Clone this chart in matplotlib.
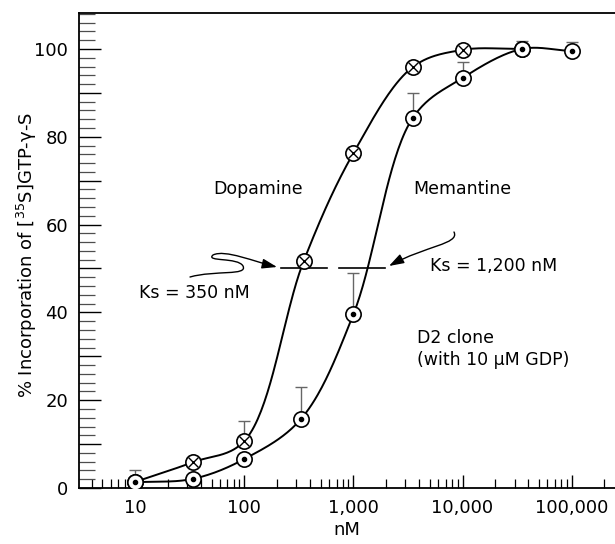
import numpy as np
import matplotlib
matplotlib.use("Agg")
import matplotlib.pyplot as plt
from matplotlib.ticker import MultipleLocator, LogLocator, FuncFormatter, NullFormatter
from matplotlib.patches import FancyArrowPatch
from matplotlib.path import Path

plt.rcParams['font.family'] = ['DejaVu Sans']
plt.rcParams['mathtext.fontset'] = 'dejavusans'

# data (nM, % incorporation)
dopa_x = [10, 34, 100, 350, 1000, 3500, 10000, 35000]
dopa_y = [1.4, 5.9, 10.7, 51.7, 76.3, 95.9, 99.8, 100.0]
dopa_err = [0, 0, 4.6, 0, 0, 0, 0, 0]

mem_x = [10, 34, 100, 330, 1000, 3500, 10000, 35000, 100000]
mem_y = [1.3, 2.1, 6.6, 15.7, 39.6, 84.3, 93.4, 100.0, 99.5]
mem_err = [2.9, 0, 0, 7.3, 9.4, 5.7, 3.6, 1.8, 2.2]

ks_dopa = 350
ks_mem = 1200

x_ticks = [10, 100, 1000, 10000, 100000]


def catmull(xv, yv, npts=40):
    """ centripetal catmull-rom line through the points, done in
        log10(x) and scaled y so both axes weigh about the same
    """
    yscale = 0.04
    P = np.column_stack([np.log10(xv), np.asarray(yv, float) * yscale])
    P = np.vstack([2 * P[0] - P[1], P, 2 * P[-1] - P[-2]])
    out = []
    for i in range(1, len(P) - 2):
        p0, p1, p2, p3 = P[i - 1], P[i], P[i + 1], P[i + 2]
        t0 = 0.0
        t1 = t0 + np.linalg.norm(p1 - p0) ** 0.5
        t2 = t1 + np.linalg.norm(p2 - p1) ** 0.5
        t3 = t2 + np.linalg.norm(p3 - p2) ** 0.5
        t = np.linspace(t1, t2, npts)[:, None]
        a1 = (t1 - t) / (t1 - t0) * p0 + (t - t0) / (t1 - t0) * p1
        a2 = (t2 - t) / (t2 - t1) * p1 + (t - t1) / (t2 - t1) * p2
        a3 = (t3 - t) / (t3 - t2) * p2 + (t - t2) / (t3 - t2) * p3
        b1 = (t2 - t) / (t2 - t0) * a1 + (t - t0) / (t2 - t0) * a2
        b2 = (t3 - t) / (t3 - t1) * a2 + (t - t1) / (t3 - t1) * a3
        c = (t2 - t) / (t2 - t1) * b1 + (t - t1) / (t2 - t1) * b2
        out.append(c)
    c = np.vstack(out)
    return 10 ** c[:, 0], c[:, 1] / yscale


fig = plt.figure(figsize=(6.15, 5.44), dpi=100)
ax = fig.add_axes([79 / 615, 1 - 488 / 544, 1 - 79 / 615, (488 - 13) / 544])

# fitted lines
for xv, yv in [(dopa_x, dopa_y), (mem_x, mem_y)]:
    sx, sy = catmull(xv, yv)
    ax.plot(sx, sy, color='black', lw=1.4, zorder=2)

# upper error bars
for xv, yv, ev in [(dopa_x, dopa_y, dopa_err), (mem_x, mem_y, mem_err)]:
    xe = [a for a, e in zip(xv, ev) if e > 0]
    ye = [b for b, e in zip(yv, ev) if e > 0]
    ee = [e for e in ev if e > 0]
    ax.errorbar(xe, ye, yerr=[np.zeros(len(ee)), ee], fmt='none',
                ecolor='0.4', elinewidth=1.0, capsize=4.5, capthick=1.0,
                zorder=1.5)

# dopamine markers (circle with cross)
ax.plot(dopa_x, dopa_y, 'o', ms=11, mfc='white', mec='black', mew=1.2,
        zorder=3)
ax.plot(dopa_x, dopa_y, 'x', ms=7.5, color='black', mew=1.0, zorder=4)

# memantine markers (circle with dot)
ax.plot(mem_x, mem_y, 'o', ms=11, mfc='white', mec='black', mew=1.2,
        zorder=5)
ax.plot(mem_x, mem_y, 'o', ms=3, color='black', zorder=6)

# Ks bars at 50 %
for ks in [ks_dopa, ks_mem]:
    ax.plot([ks / 10**0.21, ks * 10**0.21], [50, 50], color='black',
            lw=1.2, zorder=2.5)

ax.set_xscale('log')
ax.set_xlim(3.05, 250000)
ax.set_ylim(0, 108.2)

ax.spines['right'].set_visible(False)
for s in ['left', 'bottom', 'top']:
    ax.spines[s].set_linewidth(1.3)

ax.xaxis.set_major_locator(LogLocator(base=10))
ax.xaxis.set_minor_locator(LogLocator(base=10, subs=np.arange(2, 10)))
ax.xaxis.set_major_formatter(FuncFormatter(lambda v, p: f"{v:,.0f}"))
ax.xaxis.set_minor_formatter(NullFormatter())
ax.set_xticks(x_ticks)

ax.yaxis.set_major_locator(MultipleLocator(10))
ax.yaxis.set_minor_locator(MultipleLocator(2))
ax.yaxis.set_major_formatter(
    FuncFormatter(lambda v, p: f"{v:.0f}" if round(v) % 20 == 0 else ""))

ax.tick_params(axis='y', which='major', direction='in', length=16, width=1.0,
               labelsize=13, pad=8, right=False)
ax.tick_params(axis='y', which='minor', direction='in', length=11.5,
               width=0.9, color='0.3', right=False)
ax.tick_params(axis='x', which='major', direction='in', length=9.5, width=1.0,
               labelsize=13, pad=8, top=False)
ax.tick_params(axis='x', which='minor', direction='in', length=6.5,
               width=0.9, top=False)

ax.set_xlabel('nM', fontsize=13, labelpad=3)
fig.text(27 / 615, 1 - 255 / 544, '% Incorporation of [$^{35}$S]GTP-γ-S',
         rotation=90, ha='center', va='center', fontsize=13)


def px(x, y):
    return (x / 615, 1 - y / 544)


fs = 12.5
fig.text(*px(258, 189), 'Dopamine', ha='center', va='center', fontsize=fs)
fig.text(*px(462, 189), 'Memantine', ha='center', va='center', fontsize=fs)
fig.text(*px(194, 293), 'Ks = 350 nM', ha='center', va='center', fontsize=fs)
fig.text(*px(494, 266), 'Ks = 1,200 nM', ha='center', va='center',
         fontsize=fs)
fig.text(*px(417, 338), 'D2 clone', ha='left', va='center', fontsize=fs)
fig.text(*px(417, 360), '(with 10 μM GDP)', ha='left', va='center',
         fontsize=fs)

# squiggly arrows to the Ks bars
verts1 = [px(190, 277),
          px(215, 270), px(248, 276), px(243, 266),
          px(238, 257), px(205, 262), px(213, 255),
          px(225, 249), px(255, 262), px(277, 267)]
codes1 = [Path.MOVETO] + [Path.CURVE4] * 9
arr1 = FancyArrowPatch(path=Path(verts1, codes1), transform=fig.transFigure,
                       arrowstyle='-|>,head_length=0.45,head_width=0.15',
                       mutation_scale=20, color='black', lw=1.0)
fig.add_artist(arr1)

verts2 = [px(454, 232),
          px(460, 244), px(425, 246), px(389, 266)]
codes2 = [Path.MOVETO] + [Path.CURVE4] * 3
arr2 = FancyArrowPatch(path=Path(verts2, codes2), transform=fig.transFigure,
                       arrowstyle='-|>,head_length=0.45,head_width=0.15',
                       mutation_scale=20, color='black', lw=1.0)
fig.add_artist(arr2)

fig.savefig('out.png', dpi=100)
